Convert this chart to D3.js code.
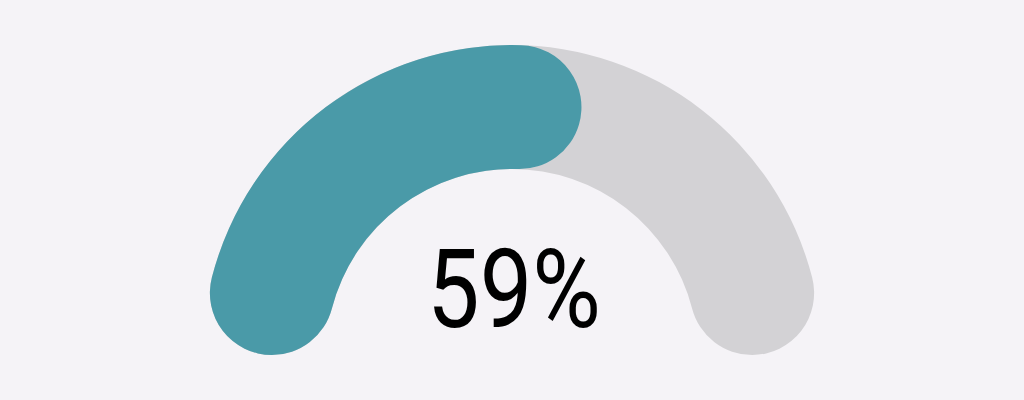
<!DOCTYPE html>
<html>
<head>
<meta charset="utf-8">
<script src="https://cdn.jsdelivr.net/npm/d3@7"></script>
<style>
  html, body { margin: 0; padding: 0; background: #f5f3f7; }
  svg { display: block; }
</style>
</head>
<body>
<svg id="chart" width="1024" height="400"></svg>
<script>
const value = [59];
const maxValue = [100];
const labels = ["59%"];

const width = 1024, height = 400;
const cx = 512, cy = 355;
const outerR = 310, innerR = 186;

const svg = d3.select("#chart");
svg.append("rect").attr("width", width).attr("height", height).attr("fill", "#f5f3f7");

const angle = d3.scaleLinear().domain([0, maxValue[0]]).range([-Math.PI / 2, Math.PI / 2]);

const arc = d3.arc()
  .innerRadius(innerR)
  .outerRadius(outerR)
  .cornerRadius((outerR - innerR) / 2);

const g = svg.append("g").attr("transform", `translate(${cx},${cy})`);

g.append("path")
  .attr("d", arc({ startAngle: angle(0), endAngle: angle(maxValue[0]) }))
  .attr("fill", "#d3d2d5");

g.append("path")
  .attr("d", arc({ startAngle: angle(0), endAngle: angle(value[0]) }))
  .attr("fill", "#4a9aa8");

svg.append("text")
  .attr("x", 514)
  .attr("y", 327)
  .attr("text-anchor", "middle")
  .attr("font-family", "Roboto, 'DejaVu Sans Condensed', sans-serif")
  .attr("font-size", 110)
  .attr("textLength", 174)
  .attr("lengthAdjust", "spacingAndGlyphs")
  .attr("fill", "#000")
  .text(labels[0]);
</script>
</body>
</html>
